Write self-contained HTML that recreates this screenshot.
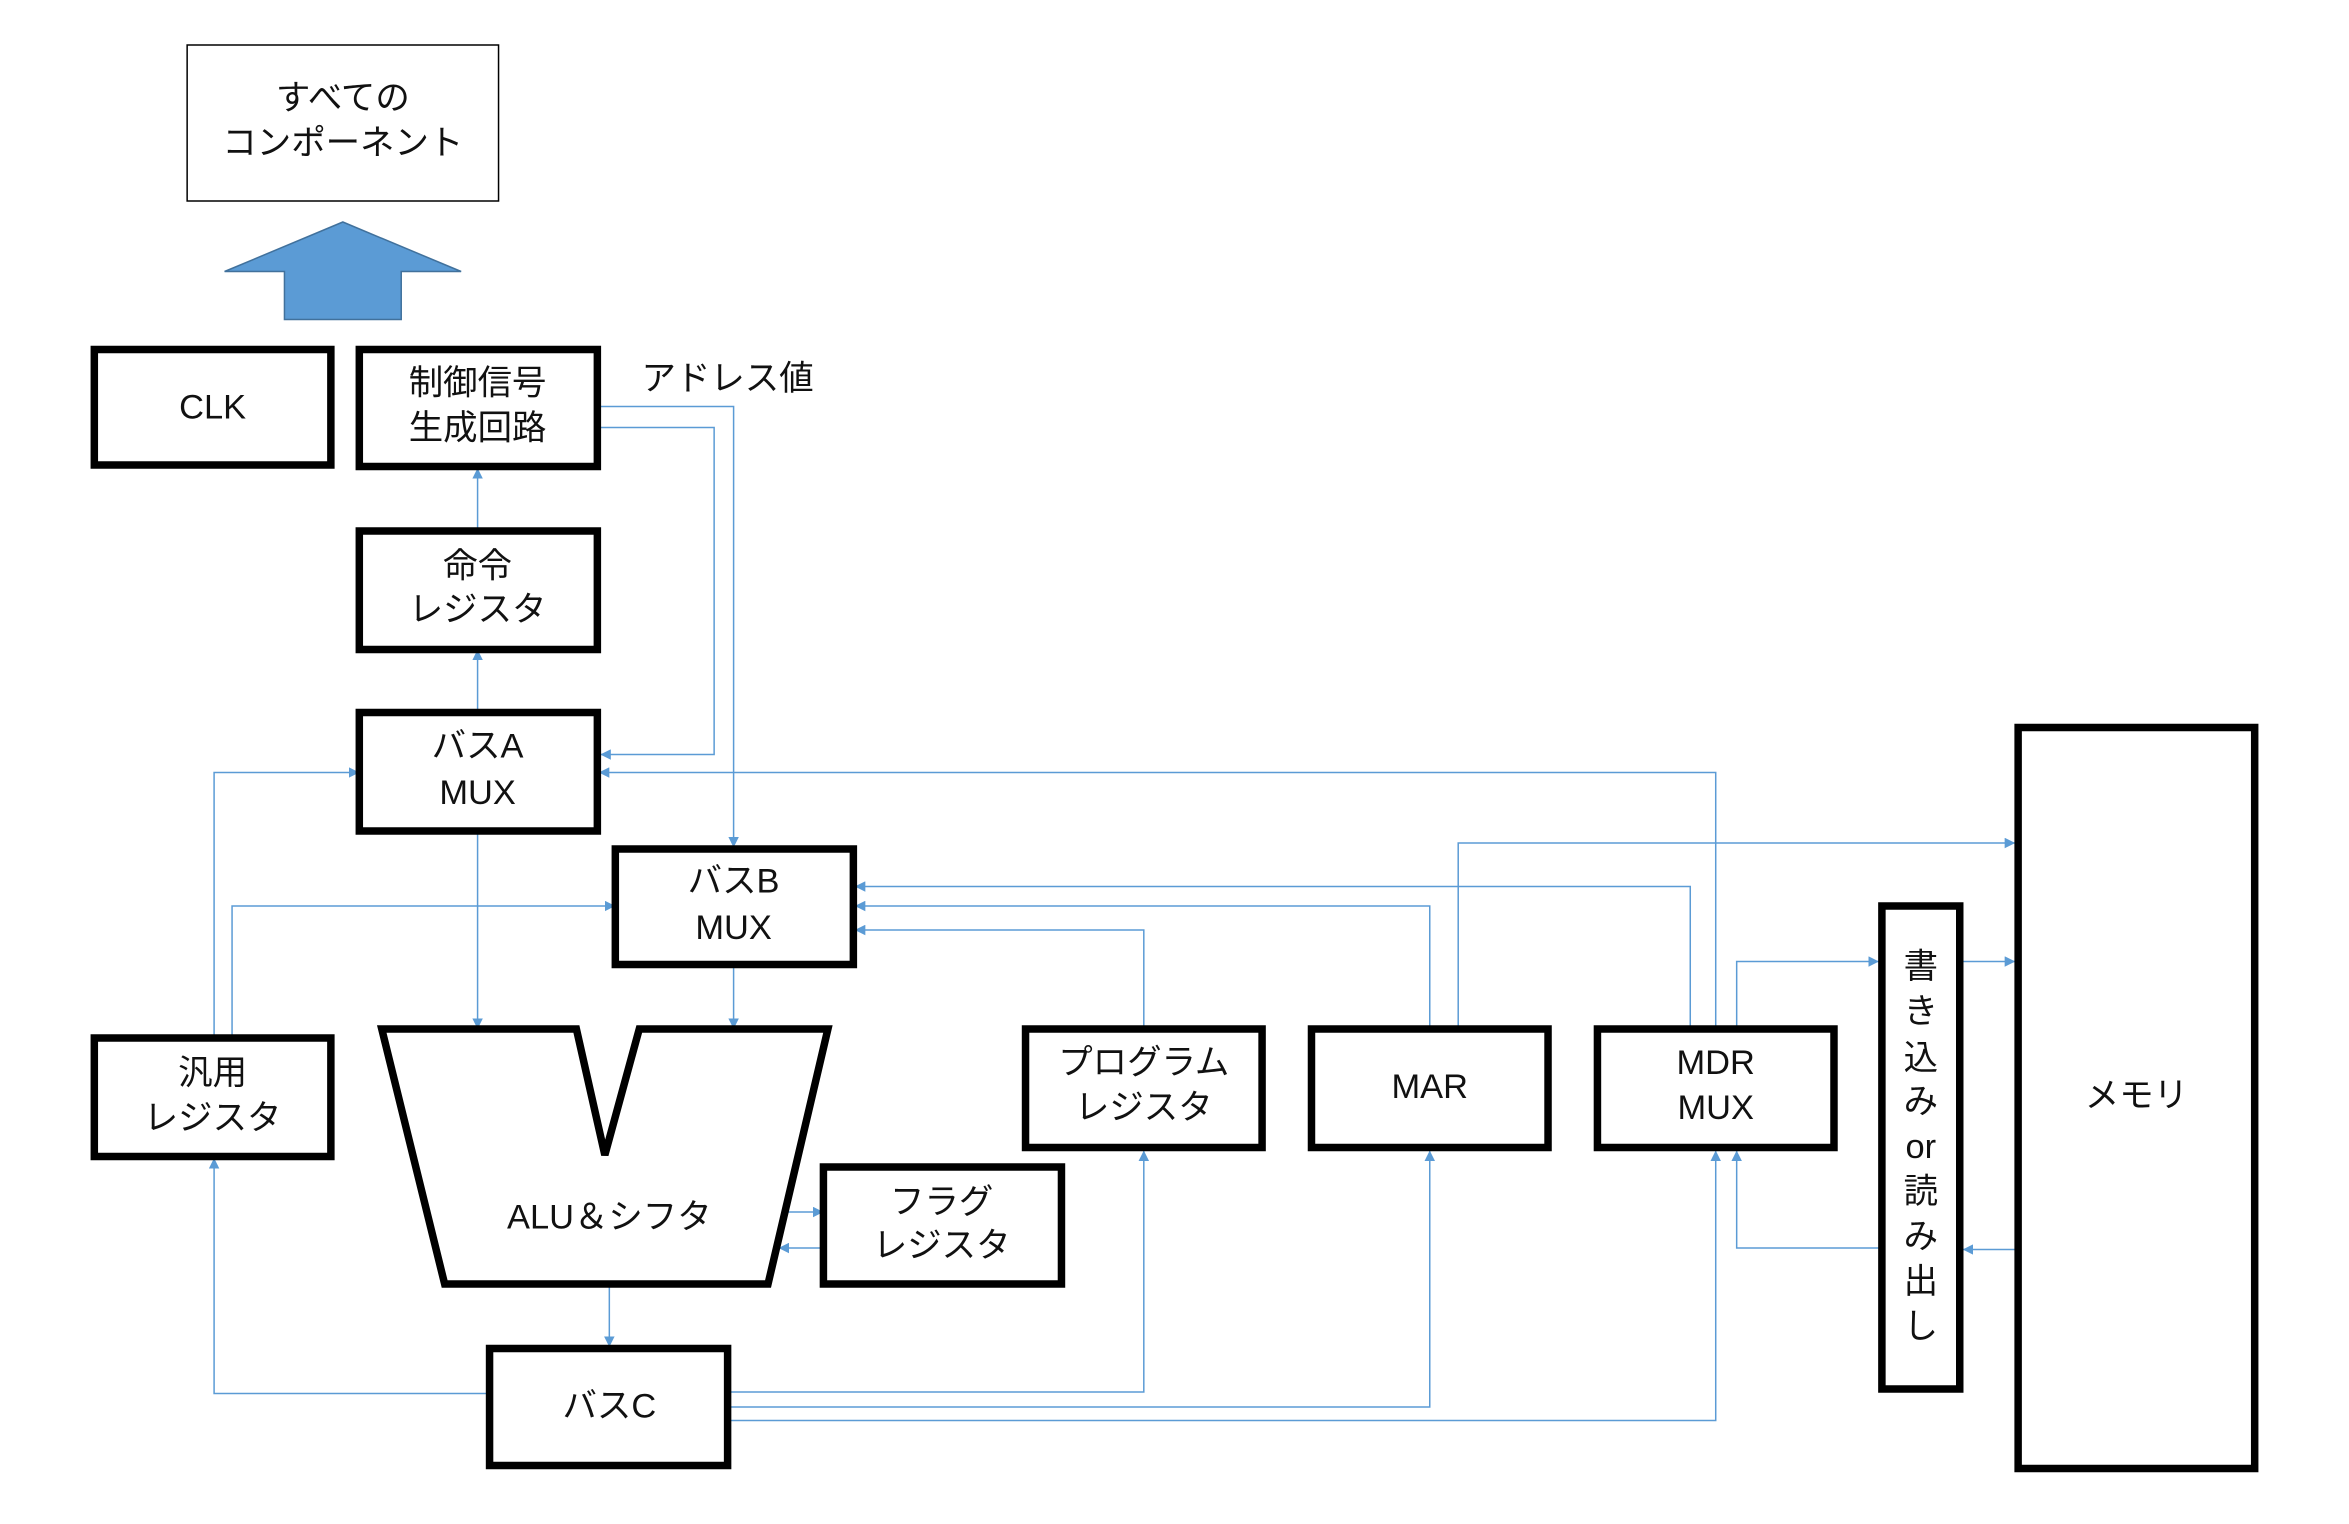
<!DOCTYPE html>
<html><head><meta charset="utf-8"><style>
html,body{margin:0;padding:0;background:#fff}
svg{display:block}
text{font-family:"Liberation Sans","Noto Sans CJK JP",sans-serif;font-size:23px;fill:#111;text-anchor:middle}
.b{fill:#fff;stroke:#000;stroke-width:5}
.l{fill:none;stroke:#5b9bd5;stroke-width:1}
</style></head><body>
<svg width="2349" height="1524" viewBox="0 0 1569 1016" preserveAspectRatio="none" xmlns="http://www.w3.org/2000/svg">
<defs><marker id="a" viewBox="0 0 10 10" refX="10" refY="5" markerWidth="7" markerHeight="7" orient="auto" markerUnits="userSpaceOnUse"><path d="M0,0L10,5L0,10z" fill="#5b9bd5"/></marker></defs>
<g class="l" marker-end="url(#a)">
<polyline class="l" points="399,285 477,285 477,503 401,503"/>
<polyline class="l" points="399,271 490,271 490,565"/>
<polyline class="l" points="319,354 319,312"/>
<polyline class="l" points="319,475 319,433"/>
<polyline class="l" points="319,554 319,686"/>
<polyline class="l" points="490,643 490,686"/>
<polyline class="l" points="143,692 143,515 240,515"/>
<polyline class="l" points="155,692 155,604 411,604"/>
<polyline class="l" points="1146,686 1146,515 400,515"/>
<polyline class="l" points="955,686 955,604 571,604"/>
<polyline class="l" points="1129,686 1129,591 571,591"/>
<polyline class="l" points="764,686 764,620 571,620"/>
<polyline class="l" points="974,686 974,562 1346,562"/>
<polyline class="l" points="1160,686 1160,641 1255,641"/>
<polyline class="l" points="1309,641 1346,641"/>
<polyline class="l" points="1348,833 1311,833"/>
<polyline class="l" points="1257,832 1160,832 1160,767"/>
<polyline class="l" points="407,856 407,898"/>
<polyline class="l" points="520,808 550,808"/>
<polyline class="l" points="550,832 520,832"/>
<polyline class="l" points="327,929 143,929 143,772"/>
<polyline class="l" points="486,928 764,928 764,767"/>
<polyline class="l" points="486,938 955,938 955,767"/>
<polyline class="l" points="486,947 1146,947 1146,767"/>
</g>
<rect x="125" y="30" width="208" height="104" fill="#fff" stroke="#000" stroke-width="1"/>
<text x="229" y="73">すべての</text><text x="229" y="103">コンポーネント</text>
<polygon points="150,181 229,148 308,181 268,181 268,213 190,213 190,181" fill="#5b9bd5" stroke="#41719c" stroke-width="1"/>
<rect class="b" x="63" y="233" width="158" height="77"/><text x="142" y="279">CLK</text>
<rect class="b" x="240" y="233" width="159" height="78"/><text x="319" y="263">制御信号</text><text x="319" y="293">生成回路</text>
<text x="486" y="260">アドレス値</text>
<rect class="b" x="240" y="354" width="159" height="79"/><text x="319" y="385">命令</text><text x="319" y="414">レジスタ</text>
<rect class="b" x="240" y="475" width="159" height="79"/><text x="319" y="505">バスA</text><text x="319" y="536">MUX</text>
<rect class="b" x="411" y="566" width="159" height="77"/><text x="490" y="595">バスB</text><text x="490" y="626">MUX</text>
<rect class="b" x="63" y="692" width="158" height="79"/><text x="142" y="723">汎用</text><text x="142" y="753">レジスタ</text>
<polygon class="b" points="255,686 385,686 404,770 427,686 553,686 513,856 297,856"/>
<text x="407" y="819">ALU＆シフタ</text>
<rect class="b" x="550" y="778" width="159" height="78"/><text x="629" y="809">フラグ</text><text x="629" y="838">レジスタ</text>
<rect class="b" x="327" y="899" width="159" height="78"/><text x="407" y="945">バスC</text>
<rect class="b" x="685" y="686" width="158" height="79"/><text x="764" y="716">プログラム</text><text x="764" y="746">レジスタ</text>
<rect class="b" x="876" y="686" width="158" height="79"/><text x="955" y="732">MAR</text>
<rect class="b" x="1067" y="686" width="158" height="79"/><text x="1146" y="716">MDR</text><text x="1146" y="746">MUX</text>
<rect class="b" x="1257" y="604" width="52" height="322"/>
<g><text x="1283" y="652">書</text><text x="1283" y="682">き</text><text x="1283" y="713">込</text><text x="1283" y="742">み</text><text x="1283" y="772">or</text><text x="1283" y="802">読</text><text x="1283" y="832">み</text><text x="1283" y="862">出</text><text x="1283" y="892">し</text></g>
<rect class="b" x="1348" y="485" width="158" height="494"/><text x="1427" y="738">メモリ</text>
</svg>
</body></html>
